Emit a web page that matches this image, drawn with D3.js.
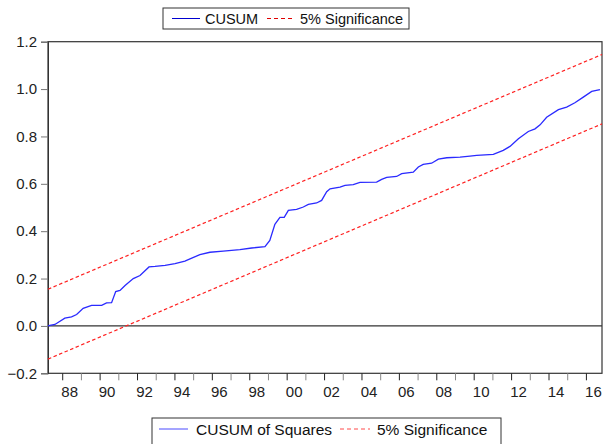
<!DOCTYPE html>
<html>
<head>
<meta charset="utf-8">
<script src="https://cdn.jsdelivr.net/npm/d3@7"></script>
<style>
body { margin: 0; background: #fff; }
svg { display: block; font-family: Arial, "Liberation Sans", sans-serif; }
</style>
</head>
<body>
<div id="chart"></div>
<script>
// data
var cusumYears = [1987.24, 1987.34, 1987.61, 1988.14, 1988.50, 1988.77, 1989.12, 1989.57, 1990.11, 1990.37, 1990.64,
  1990.86, 1991.09, 1991.36, 1991.80, 1992.16, 1992.64, 1992.96, 1993.50, 1994.03, 1994.56, 1994.74,
  1995.36, 1995.90, 1996.61, 1997.50, 1998.13, 1998.84, 1999.10, 1999.37, 1999.64, 1999.87, 2000.09,
  2000.53, 2000.89, 2001.16, 2001.60, 2001.87, 2002.14, 2002.32, 2002.85, 2003.12, 2003.56, 2003.92,
  2004.81, 2005.08, 2005.35, 2005.88, 2006.15, 2006.77, 2007.04, 2007.30, 2007.75, 2008.11, 2008.56,
  2009.27, 2009.80, 2010.16, 2011.05, 2011.58, 2011.94, 2012.39, 2012.92, 2013.28, 2013.55, 2013.90,
  2014.53, 2014.97, 2015.41, 2015.86, 2016.31, 2016.75];
var cusumValues = [0, 0.002, 0.006, 0.033, 0.038, 0.048, 0.074, 0.087, 0.087, 0.097, 0.098,
  0.145, 0.150, 0.171, 0.200, 0.213, 0.249, 0.251, 0.256, 0.263, 0.274, 0.280,
  0.301, 0.311, 0.316, 0.322, 0.329, 0.335, 0.361, 0.429, 0.458, 0.458, 0.488,
  0.492, 0.502, 0.513, 0.519, 0.530, 0.567, 0.579, 0.586, 0.593, 0.597, 0.606,
  0.607, 0.619, 0.627, 0.631, 0.643, 0.649, 0.671, 0.682, 0.687, 0.704, 0.710,
  0.713, 0.717, 0.720, 0.724, 0.741, 0.758, 0.790, 0.821, 0.832, 0.849, 0.881,
  0.913, 0.924, 0.942, 0.966, 0.990, 0.998];
var boundYears = [1987.24, 2016.86];
var upperBound = [0.155, 1.146];
var lowerBound = [-0.14, 0.853];
var yTicks = [-0.2, 0.0, 0.2, 0.4, 0.6, 0.8, 1.0, 1.2];
var xTickYears = d3.range(1988, 2017);
var xLabelYears = d3.range(1988, 2017, 2);

var width = 603, height = 444;
var svg = d3.select("#chart").append("svg")
    .attr("width", width)
    .attr("height", height);

var x = d3.scaleLinear().domain([1987.24, 2016.86]).range([48, 602]);
var y = d3.scaleLinear().domain([-0.2, 1.2]).range([373.3, 41.7]);

// top legend (left over from the CUSUM chart above)
var topLeg = svg.append("g");
topLeg.append("rect").attr("x", 163).attr("y", 8).attr("width", 246).attr("height", 21)
    .attr("fill", "#fff").attr("stroke", "#333").attr("stroke-width", 1);
topLeg.append("line").attr("x1", 172).attr("x2", 200).attr("y1", 18.5).attr("y2", 18.5)
    .attr("stroke", "#0000d0").attr("stroke-width", 1);
topLeg.append("text").attr("x", 205).attr("y", 24).attr("font-size", 14.5).attr("fill", "#111").text("CUSUM");
topLeg.append("line").attr("x1", 267).attr("x2", 295).attr("y1", 18.5).attr("y2", 18.5)
    .attr("stroke", "#e00000").attr("stroke-width", 1).attr("stroke-dasharray", "4,3");
topLeg.append("text").attr("x", 300).attr("y", 24).attr("font-size", 14.5).attr("fill", "#111").text("5% Significance");

// frame
svg.append("rect").attr("x", 48).attr("y", 41.7).attr("width", 554).attr("height", 331.6)
    .attr("fill", "none").attr("stroke", "#333").attr("stroke-width", 1.2);

// zero line
svg.append("line").attr("x1", 48).attr("x2", 602).attr("y1", y(0)).attr("y2", y(0))
    .attr("stroke", "#333").attr("stroke-width", 1.2);

// y axis
var yAxis = d3.axisLeft(y).tickValues(yTicks).tickSize(7).tickPadding(4)
    .tickFormat(d3.format(".1f"));
var gy = svg.append("g").attr("transform", "translate(48,0)").call(yAxis);
gy.select(".domain").attr("stroke", "#333");
gy.selectAll(".tick line").attr("stroke", "#777");
gy.selectAll(".tick text").attr("font-size", 15).attr("fill", "#222")
    .attr("font-family", "Arial, 'Liberation Sans', sans-serif");

// x axis
var xAxis = d3.axisBottom(x).tickValues(xTickYears).tickSize(7).tickFormat("");
var gx = svg.append("g").attr("transform", "translate(0,373.3)").call(xAxis);
gx.select(".domain").remove();
gx.selectAll(".tick line").attr("stroke", function(d) { return d % 2 === 0 ? "#222" : "#888"; });

svg.selectAll("text.xlab")
    .data(xLabelYears)
    .enter()
    .append("text")
    .classed("xlab", true)
    .attr("x", function(d) { return x(d) + 7.5; })
    .attr("y", 397)
    .attr("text-anchor", "middle")
    .attr("font-size", 15)
    .attr("fill", "#222")
    .text(function(d) { return String(d).slice(2); });

// significance bounds
var boundLine = d3.line().x(function(d) { return x(d[0]); }).y(function(d) { return y(d[1]); });
[upperBound, lowerBound].forEach(function(b) {
    svg.append("path")
        .datum(boundYears.map(function(yr, i) { return [yr, b[i]]; }))
        .attr("d", boundLine)
        .attr("fill", "none")
        .attr("stroke", "#ff2020")
        .attr("stroke-width", 1.2)
        .attr("stroke-dasharray", "3.5,2.5");
});

// cusum of squares
svg.append("path")
    .datum(cusumYears.map(function(yr, i) { return [yr, cusumValues[i]]; }))
    .attr("d", boundLine)
    .attr("fill", "none")
    .attr("stroke", "#2a2aff")
    .attr("stroke-width", 1.3);

// bottom legend
var botLeg = svg.append("g");
botLeg.append("rect").attr("x", 152).attr("y", 418).attr("width", 349).attr("height", 40)
    .attr("fill", "#fff").attr("stroke", "#333").attr("stroke-width", 1);
botLeg.append("line").attr("x1", 159).attr("x2", 188).attr("y1", 429).attr("y2", 429)
    .attr("stroke", "#4a4aff").attr("stroke-width", 1);
botLeg.append("text").attr("x", 196).attr("y", 434.5).attr("font-size", 15.5).attr("fill", "#111").text("CUSUM of Squares");
botLeg.append("line").attr("x1", 340).attr("x2", 370).attr("y1", 429).attr("y2", 429)
    .attr("stroke", "#ff4a4a").attr("stroke-width", 1).attr("stroke-dasharray", "4,3");
botLeg.append("text").attr("x", 377).attr("y", 434.5).attr("font-size", 15.5).attr("fill", "#111").text("5% Significance");
</script>
</body>
</html>
